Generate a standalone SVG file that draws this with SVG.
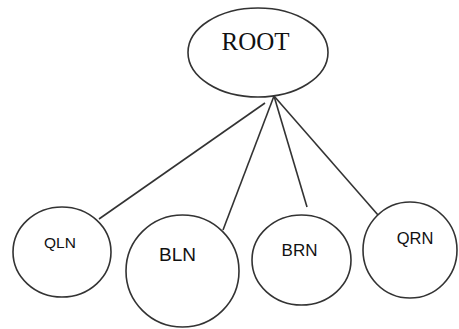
<svg xmlns="http://www.w3.org/2000/svg" width="459" height="329" viewBox="0 0 459 329">
<style>
.n{fill:#fff;stroke:#333;stroke-width:1.6}
.e{stroke:#333;stroke-width:1.6;fill:none}
.t{font-family:"Liberation Sans",Arial,sans-serif;fill:#111;text-anchor:middle}
.r{font-family:"Liberation Serif","Times New Roman",serif;fill:#111;text-anchor:middle}
</style>
<rect width="459" height="329" fill="#fff"/>
<g id="connectors">
<line class="e" x1="265" y1="103" x2="99" y2="219"/>
<line class="e" x1="274" y1="96" x2="223" y2="230"/>
<line class="e" x1="274" y1="96" x2="307" y2="207"/>
<line class="e" x1="274" y1="96" x2="378" y2="215"/>
</g>
<g id="root">
<ellipse class="n" cx="258" cy="52.5" rx="70" ry="44.5"/>
<text class="r" x="255.5" y="50" font-size="25">ROOT</text>
</g>
<g id="qln">
<ellipse class="n" cx="62" cy="252" rx="49" ry="45"/>
<text class="t" x="60" y="248" font-size="15.5">QLN</text>
</g>
<g id="bln">
<ellipse class="n" cx="182.5" cy="271" rx="56.5" ry="56"/>
<text class="t" x="177.5" y="261" font-size="19">BLN</text>
</g>
<g id="brn">
<ellipse class="n" cx="301.5" cy="260" rx="49.5" ry="45"/>
<text class="t" x="299.5" y="256" font-size="17">BRN</text>
</g>
<g id="qrn">
<ellipse class="n" cx="410" cy="250" rx="47" ry="48"/>
<text class="t" x="415" y="244" font-size="16.5">QRN</text>
</g>
</svg>
